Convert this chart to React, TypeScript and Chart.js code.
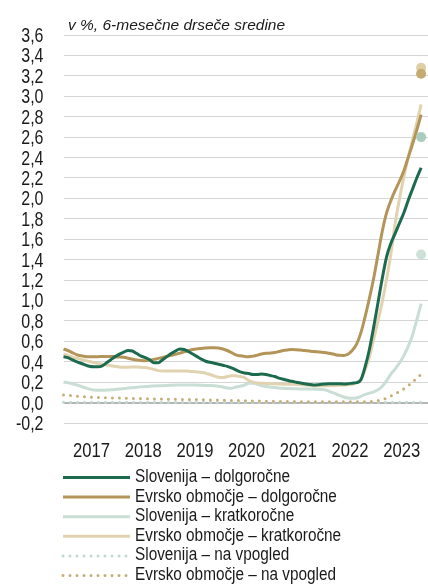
import React, { useEffect, useRef } from 'react';
import { Chart, registerables } from 'chart.js';

Chart.register(...registerables);

// ---------- data ----------
const subtitle = 'v %, 6-mesečne drseče sredine';
const years = ['2017', '2018', '2019', '2020', '2021', '2022', '2023'];
const yMin = -0.2;
const yMax = 3.6;
const yStep = 0.2;

const seriesNames = [
  'Slovenija – dolgoročne',
  'Evrsko območje – dolgoročne',
  'Slovenija – kratkoročne',
  'Evrsko območje – kratkoročne',
  'Slovenija – na vpogled',
  'Evrsko območje – na vpogled',
];

// monthly values, Jan 2017 – Dec 2023
const sloLong = [
  0.45, 0.44, 0.42, 0.40, 0.385, 0.37, 0.355, 0.35, 0.35, 0.36,
  0.39, 0.42, 0.45, 0.475, 0.495, 0.51, 0.505, 0.48, 0.455, 0.44,
  0.42, 0.39, 0.39, 0.42, 0.45, 0.48, 0.505, 0.525, 0.52, 0.50,
  0.475, 0.45, 0.425, 0.405, 0.395, 0.385, 0.375, 0.365, 0.355, 0.34,
  0.32, 0.30, 0.29, 0.285, 0.275, 0.275, 0.28, 0.275, 0.265, 0.255,
  0.24, 0.228, 0.218, 0.208, 0.2, 0.192, 0.185, 0.178, 0.173, 0.175,
  0.18, 0.182, 0.185, 0.185, 0.185, 0.183, 0.185, 0.19, 0.195, 0.22,
  0.35, 0.52, 0.74, 0.98, 1.22, 1.43, 1.56, 1.66, 1.76, 1.86,
  1.98, 2.09, 2.20, 2.30,
];
const euLong = [
  0.525, 0.51, 0.49, 0.47, 0.458, 0.452, 0.45, 0.45, 0.45, 0.452,
  0.452, 0.452, 0.45, 0.447, 0.443, 0.435, 0.425, 0.417, 0.412, 0.41,
  0.415, 0.423, 0.433, 0.443, 0.453, 0.463, 0.473, 0.484, 0.497, 0.508,
  0.52, 0.526, 0.53, 0.534, 0.537, 0.538, 0.535, 0.525, 0.51, 0.49,
  0.468, 0.458, 0.452, 0.45, 0.455, 0.465, 0.475, 0.482, 0.485, 0.49,
  0.5, 0.51, 0.516, 0.52, 0.518, 0.514, 0.51, 0.505, 0.5, 0.497,
  0.494, 0.488, 0.48, 0.47, 0.463, 0.462, 0.473, 0.51, 0.57, 0.68,
  0.84, 1.02, 1.22, 1.45, 1.68, 1.86, 1.98, 2.08, 2.17, 2.27,
  2.40, 2.53, 2.67, 2.82,
];
const sloShort = [
  0.2, 0.195, 0.185, 0.173, 0.16, 0.145, 0.132, 0.124, 0.12, 0.12,
  0.122, 0.125, 0.128, 0.132, 0.137, 0.142, 0.146, 0.15, 0.154, 0.157,
  0.16, 0.162, 0.164, 0.166, 0.168, 0.17, 0.172, 0.173, 0.173, 0.173,
  0.173, 0.172, 0.17, 0.168, 0.167, 0.165, 0.16, 0.152, 0.142, 0.14,
  0.152, 0.16, 0.172, 0.188, 0.19, 0.178, 0.165, 0.158, 0.152, 0.147,
  0.143, 0.14, 0.138, 0.136, 0.135, 0.134, 0.134, 0.133, 0.132, 0.13,
  0.127, 0.12, 0.105, 0.09, 0.07, 0.055, 0.045, 0.042, 0.045, 0.06,
  0.08, 0.092, 0.105, 0.125, 0.16, 0.215, 0.28, 0.33, 0.39, 0.46,
  0.55, 0.66, 0.81, 0.97,
];
const euShort = [
  0.477, 0.462, 0.448, 0.435, 0.423, 0.413, 0.403, 0.393, 0.384, 0.375,
  0.367, 0.36, 0.354, 0.349, 0.347, 0.347, 0.348, 0.348, 0.347, 0.343,
  0.335, 0.325, 0.313, 0.31, 0.31, 0.31, 0.31, 0.31, 0.31, 0.308,
  0.305, 0.3, 0.295, 0.288, 0.275, 0.26, 0.247, 0.245, 0.255, 0.263,
  0.262, 0.255, 0.245, 0.215, 0.2, 0.192, 0.19, 0.188, 0.186, 0.184,
  0.182, 0.18, 0.18, 0.179, 0.178, 0.175, 0.172, 0.169, 0.166, 0.164,
  0.163, 0.165, 0.167, 0.168, 0.17, 0.172, 0.175, 0.18, 0.195, 0.23,
  0.32, 0.45, 0.62, 0.8, 0.99, 1.21, 1.46, 1.76, 2.0, 2.21,
  2.4, 2.57, 2.74, 2.92,
];
const sloOvernight = [
  0.002, 0.002, 0.002, 0.002, 0.002, 0.002, 0.002, 0.002, 0.002, 0.002,
  0.002, 0.002, 0.002, 0.002, 0.002, 0.002, 0.002, 0.002, 0.002, 0.002,
  0.002, 0.002, 0.002, 0.002, 0.002, 0.002, 0.002, 0.002, 0.002, 0.002,
  0.002, 0.002, 0.002, 0.002, 0.002, 0.002, 0.002, 0.002, 0.002, 0.002,
  0.002, 0.002, 0.002, 0.002, 0.002, 0.002, 0.002, 0.002, 0.002, 0.002,
  0.002, 0.002, 0.002, 0.002, 0.002, 0.002, 0.002, 0.002, 0.002, 0.002,
  0.002, 0.002, 0.002, 0.002, 0.002, 0.002, 0.002, 0.002, 0.002, 0.002,
  0.002, 0.002, 0.002, 0.002, 0.002, 0.002, 0.002, 0.002, 0.002, 0.002,
  0.002, 0.002, 0.002, 0.002,
];
const euOvernight = [
  0.075, 0.072, 0.068, 0.064, 0.06, 0.057, 0.054, 0.052, 0.05, 0.048,
  0.047, 0.046, 0.045, 0.044, 0.043, 0.042, 0.041, 0.04, 0.039, 0.038,
  0.037, 0.036, 0.036, 0.035, 0.034, 0.033, 0.032, 0.031, 0.031, 0.03,
  0.03, 0.029, 0.028, 0.027, 0.026, 0.025, 0.024, 0.023, 0.022, 0.021,
  0.02, 0.019, 0.018, 0.017, 0.016, 0.015, 0.014, 0.013, 0.012, 0.012,
  0.011, 0.011, 0.01, 0.01, 0.01, 0.009, 0.009, 0.009, 0.008, 0.008,
  0.008, 0.008, 0.008, 0.007, 0.007, 0.007, 0.007, 0.007, 0.007, 0.007,
  0.008, 0.01, 0.014, 0.02, 0.03, 0.045, 0.065, 0.087, 0.11, 0.135,
  0.165, 0.2, 0.24, 0.275,
];

// single end-of-period markers (month index, value)
const markerMonth = 83;
const markerValues = [3.28, 3.22, 2.6, 1.45];

// ---------- styles ----------
const seriesColors = ['#1d6b4e', '#b3955a', '#c9ded5', '#e2d3b0', '#bfd9cf', '#c8ad78'];
const markerColors = ['#e0cfa6', '#c5aa72', '#a9ccbf', '#cde1d9'];
const REG = '"Liberation Sans", Arial, sans-serif';
const NARROW_SCALE = 0.82;
const TEXT = '#1a1a1a';

const toPts = (arr: number[]) => arr.map((y, i) => ({ x: i, y }));

// condensed text (Arial-Narrow-like) drawn through a horizontal scale
function narrowText(
  ctx: CanvasRenderingContext2D,
  text: string,
  x: number,
  y: number,
  size: number,
  align: CanvasTextAlign,
) {
  ctx.save();
  ctx.font = `${size}px ${REG}`;
  ctx.fillStyle = TEXT;
  ctx.textAlign = align;
  ctx.textBaseline = 'alphabetic';
  ctx.translate(x, y);
  ctx.scale(NARROW_SCALE, 1);
  ctx.fillText(text, 0, 0);
  ctx.restore();
}

const decorPlugin = {
  id: 'decor',
  afterDraw(chart: any) {
    const ctx = chart.ctx as CanvasRenderingContext2D;
    const xs = chart.scales.x;
    const ys = chart.scales.y;
    ctx.save();
    // subtitle
    ctx.fillStyle = TEXT;
    ctx.font = `italic 15.5px ${REG}`;
    ctx.textBaseline = 'alphabetic';
    ctx.textAlign = 'left';
    ctx.fillText(subtitle, 68, 29.5);

    // y tick labels
    ys.ticks.forEach((t: any) => {
      const py = ys.getPixelForValue(t.value);
      const lbl = Number(t.value).toFixed(1).replace('.', ',');
      narrowText(ctx, lbl, 43.5, py + 7, 19.5, 'right');
    });

    // x tick labels (centred on each year)
    years.forEach((yr, k) => {
      const px = xs.getPixelForValue(6.5 + 12 * k);
      narrowText(ctx, yr, px, chart.chartArea.bottom + 34, 20.3, 'center');
    });

    // legend
    const x0 = 63;
    const x1 = 130;
    const tx = 135;
    const y0 = 477.5;
    const step = 19.6;
    const items = chart.data.datasets.filter((d: any) => d.inLegend);
    items.forEach((d: any, k: number) => {
      const y = y0 + k * step;
      ctx.save();
      ctx.strokeStyle = d.borderColor;
      ctx.lineWidth = d.borderWidth;
      ctx.lineCap = d.borderDash && d.borderDash.length ? 'round' : 'butt';
      ctx.setLineDash(d.borderDash || []);
      ctx.beginPath();
      ctx.moveTo(x0, y);
      ctx.lineTo(x1, y);
      ctx.stroke();
      ctx.restore();
      narrowText(ctx, d.label, tx, y + 4.5, 18.7, 'left');
    });
    ctx.restore();
  },
};

export default function App() {
  const ref = useRef<HTMLCanvasElement | null>(null);

  useEffect(() => {
    if (!ref.current) return;
    const lineSets = [sloLong, euLong, sloShort, euShort, sloOvernight, euOvernight];
    const orders = [2, 3, 5, 4, 7, 6];
    const datasets: any[] = markerValues.map((v, k) => ({
      label: 'm' + k,
      data: [{ x: markerMonth, y: v }],
      showLine: false,
      pointRadius: 5,
      pointHoverRadius: 5,
      pointBackgroundColor: markerColors[k],
      pointBorderWidth: 0,
      borderColor: markerColors[k],
      order: k === 1 ? 0 : 1,
      clip: false,
      inLegend: false,
    }));
    lineSets.forEach((arr, k) => {
      const dotted = k >= 4;
      datasets.push({
        label: seriesNames[k],
        data: toPts(arr),
        borderColor: seriesColors[k],
        backgroundColor: seriesColors[k],
        borderWidth: 3,
        borderDash: dotted ? [0, 7] : [],
        borderCapStyle: dotted ? 'round' : 'butt',
        pointRadius: 0,
        cubicInterpolationMode: 'monotone',
        fill: false,
        order: orders[k],
        clip: false,
        inLegend: true,
      });
    });

    const chart = new Chart(ref.current, {
      type: 'line',
      data: { datasets },
      options: {
        animation: false,
        responsive: false,
        devicePixelRatio: 1,
        layout: { autoPadding: false, padding: { top: 35, right: 0, bottom: 121, left: 0 } },
        plugins: {
          legend: { display: false },
          tooltip: { enabled: false },
          title: { display: false },
        },
        scales: {
          x: {
            type: 'linear',
            min: 0,
            max: 84.6,
            grid: { display: false },
            border: { display: false },
            afterFit: (scale: any) => {
              scale.height = 40;
            },
            ticks: { display: false },
          },
          y: {
            min: yMin,
            max: yMax,
            afterFit: (scale: any) => {
              scale.width = 63.5;
            },
            border: { display: false },
            grid: {
              drawTicks: false,
              color: (c: any) => (Math.abs(c.tick.value) < 1e-9 ? '#b5b5b5' : '#d5d5d5'),
              lineWidth: (c: any) => (Math.abs(c.tick.value) < 1e-9 ? 2 : 1),
            },
            ticks: {
              display: false,
              stepSize: yStep,
              autoSkip: false,
            },
          },
        },
      },
      plugins: [decorPlugin],
    });
    return () => chart.destroy();
  }, []);

  return (
    <div style={{ position: 'absolute', left: 0, top: 0, width: 428, height: 584, background: '#fff' }}>
      <canvas ref={ref} width={428} height={584} style={{ display: 'block' }} />
    </div>
  );
}
